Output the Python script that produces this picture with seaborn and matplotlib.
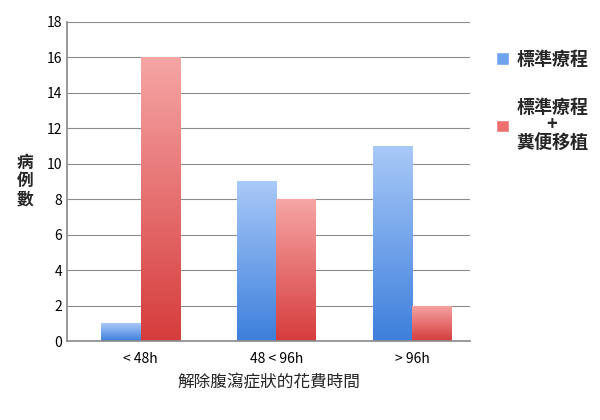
import matplotlib
matplotlib.use("Agg")
import matplotlib.pyplot as plt
import seaborn as sns
import numpy as np
import pandas as pd
from matplotlib.colors import LinearSegmentedColormap
from matplotlib.patches import Patch

categories = ["< 48h", "48 < 96h", "> 96h"]
series = ["標準療程", "標準療程\n+\n糞便移植"]
standard = [1, 9, 11]
fmt = [16, 8, 2]

sns.set_theme(style="white")
plt.rcParams['font.family'] = ['Noto Sans CJK TC', 'DejaVu Sans']

df = pd.DataFrame({
    "cat": categories * 2,
    "group": [series[0]] * 3 + [series[1]] * 3,
    "val": standard + fmt,
})

fig = plt.figure(figsize=(6, 4.2), dpi=100)
ax = fig.add_axes([0.112, 0.188, 0.672, 0.76])
sns.barplot(data=df, x="cat", y="val", hue="group", ax=ax, width=0.58,
            palette=["#6fa3ee", "#ee6f6f"], legend=False, saturation=1)

cmaps = [LinearSegmentedColormap.from_list("b", ["#3d7fdc", "#a9c9f8"]),
         LinearSegmentedColormap.from_list("r", ["#d63c3c", "#f6a5a5"])]
grad = np.linspace(0, 1, 256).reshape(-1, 1)
for i, p in enumerate(ax.patches[:6]):
    cm = cmaps[i // 3]
    x0, y0 = p.get_x(), p.get_y()
    w, h = p.get_width(), p.get_height()
    im = ax.imshow(grad, cmap=cm, origin="lower", aspect="auto",
                   extent=[x0, x0 + w, y0, y0 + h], zorder=p.get_zorder())
    im.set_clip_path(p)
    p.set_facecolor("none")
    p.set_edgecolor("none")

ax.set_xlim(-0.54, 2.43)
ax.set_ylim(0, 18)
ax.set_yticks(range(0, 19, 2))
ax.yaxis.grid(True, color="#8c8c8c", linewidth=0.8)
ax.set_axisbelow(True)
for s in ["top", "right"]:
    ax.spines[s].set_visible(False)
ax.spines["left"].set_color("#8c8c8c")
ax.spines["bottom"].set_color("#8c8c8c")
ax.tick_params(axis="both", labelsize=10, colors="black", length=0)
ax.tick_params(axis="x", pad=8)
ax.set_xlabel("解除腹瀉症狀的花費時間", fontsize=12, labelpad=6, fontweight="medium")
ax.set_ylabel("病\n例\n數", rotation=0, fontsize=12, labelpad=16, va="center",
              linespacing=1.0, fontweight="bold")

handles = [Patch(facecolor="#6fa3ee"), Patch(facecolor="#ee6f6f")]
leg = fig.legend(handles, series, loc="center left", bbox_to_anchor=(0.8, 0.76),
                 frameon=False, handlelength=0.7, handleheight=0.7,
                 labelspacing=1.6, handletextpad=0.4,
                 prop={"size": 13, "weight": "bold"})
for t in leg.get_texts():
    t.set_multialignment("center")
    t.set_linespacing(0.9)

fig.savefig("out.png", dpi=100)
